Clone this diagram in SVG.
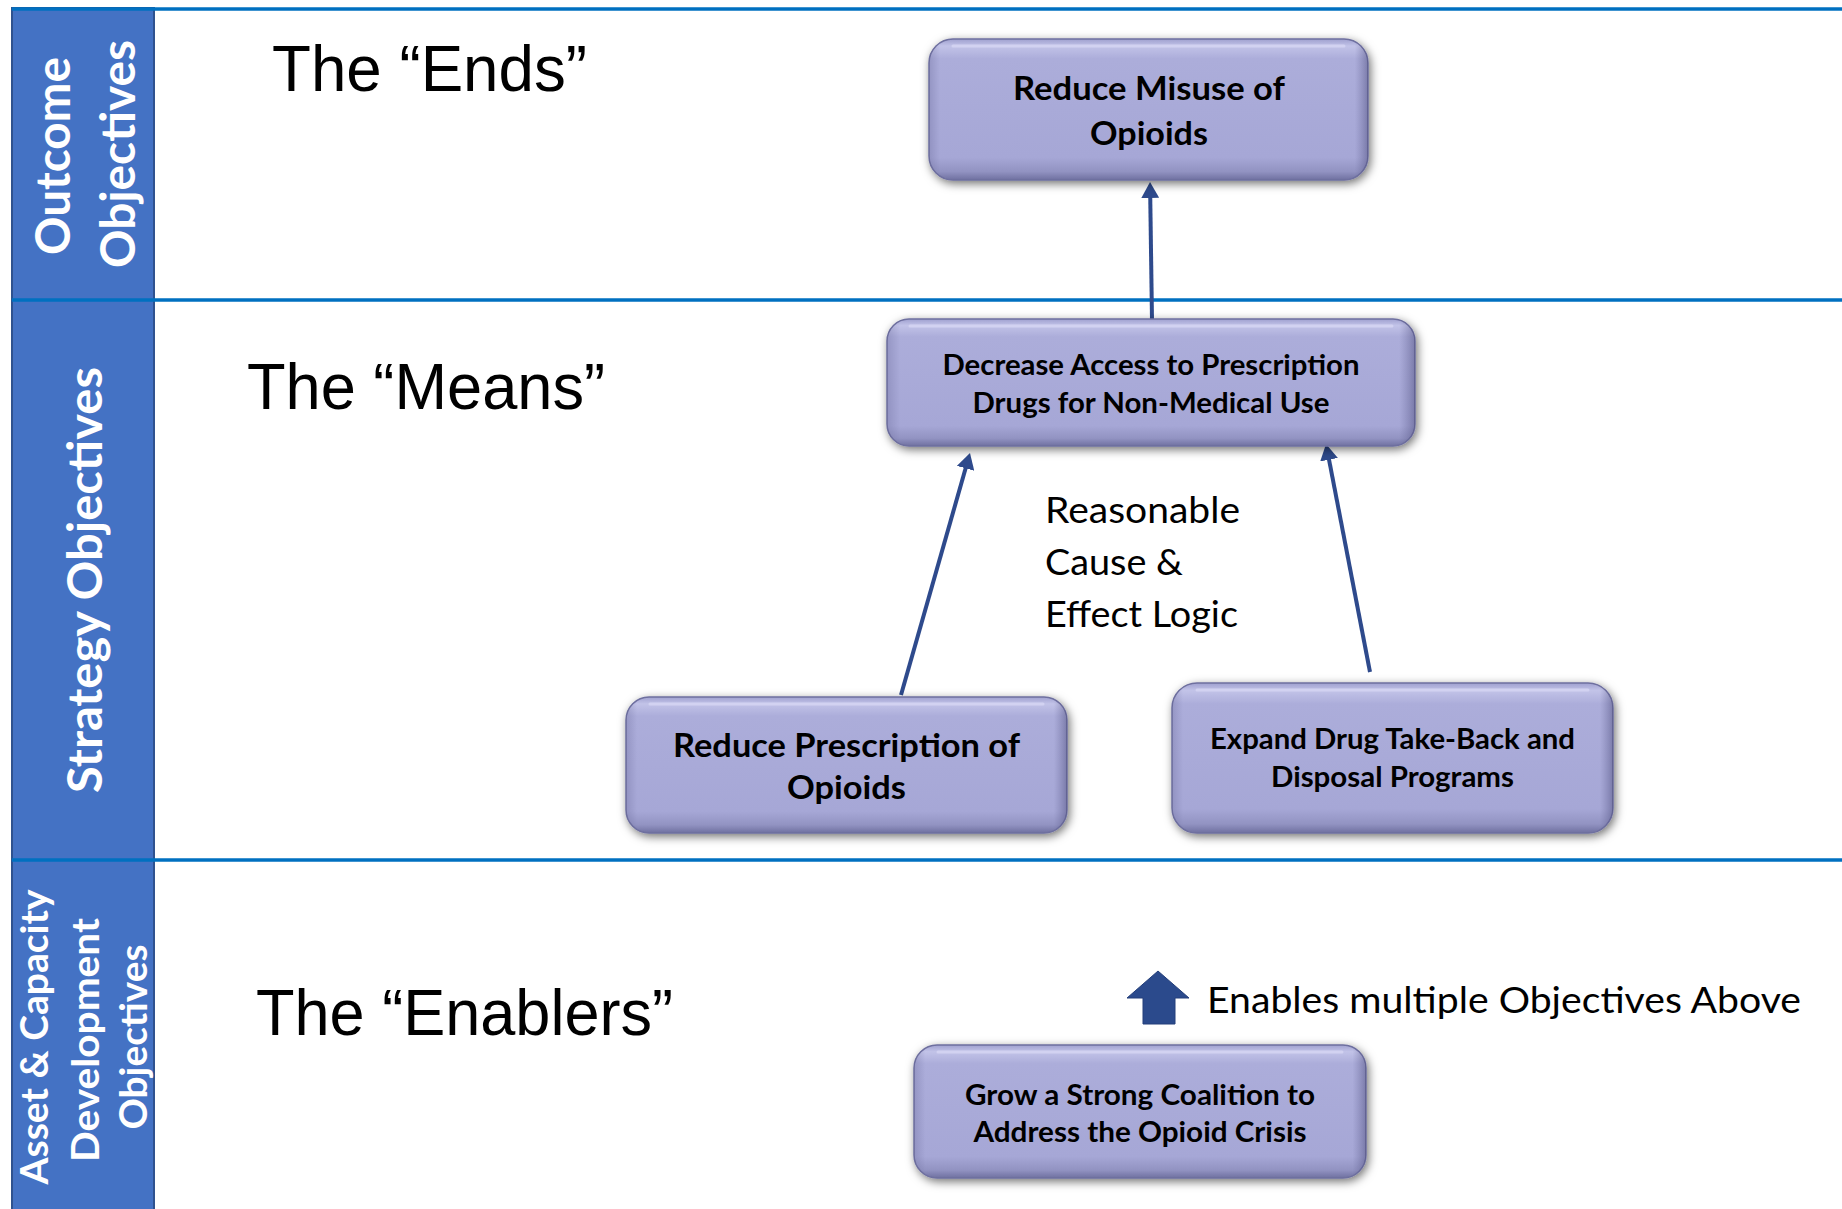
<svg xmlns="http://www.w3.org/2000/svg" width="1842" height="1209" viewBox="0 0 1842 1209">
  <style>
    .band { fill: #4472C4; stroke: #2F528F; stroke-width: 2; }
    .rule { stroke: #0070C0; stroke-width: 3.5; fill: none; }
    .bandtxt { font-family: Lato, "Open Sans", sans-serif; font-weight: bold; fill: #FFFFFF; text-anchor: middle; }
    .title { font-family: "Liberation Sans", Arial, sans-serif; font-size: 64px; fill: #000000; }
    .box { fill: url(#boxGrad); stroke: #6E6F9F; stroke-width: 1.5; filter: url(#shadow); }
    .boxshade { fill: url(#sideGrad); stroke: none; }
    .hl { fill: none; stroke: #D4D4F2; stroke-width: 3; stroke-linecap: round; opacity: 0.9; }
    .btxt { font-family: Lato, "Open Sans", sans-serif; font-weight: bold; fill: #000000; text-anchor: middle; }
    .note { font-family: Lato, "Open Sans", sans-serif; fill: #000000; }
    .conn { stroke: #2E4A8C; stroke-width: 4; fill: none; marker-end: url(#arrow); }
  </style>
  <defs>
    <linearGradient id="boxGrad" x1="0" y1="0" x2="0" y2="1">
      <stop offset="0" stop-color="#9FA0CF"/>
      <stop offset="0.05" stop-color="#C2C3E8"/>
      <stop offset="0.14" stop-color="#ACADDA"/>
      <stop offset="0.84" stop-color="#A6A7D6"/>
      <stop offset="0.94" stop-color="#9293C2"/>
      <stop offset="1" stop-color="#6F70A0"/>
    </linearGradient>
    <linearGradient id="sideGrad" x1="0" y1="0" x2="1" y2="0">
      <stop offset="0" stop-color="#5A5A8A" stop-opacity="0.28"/>
      <stop offset="0.025" stop-color="#5A5A8A" stop-opacity="0"/>
      <stop offset="0.97" stop-color="#5A5A8A" stop-opacity="0"/>
      <stop offset="1" stop-color="#404070" stop-opacity="0.45"/>
    </linearGradient>
    <filter id="shadow" x="-10%" y="-15%" width="120%" height="135%">
      <feDropShadow dx="2" dy="3" stdDeviation="5" flood-color="#000000" flood-opacity="0.55"/>
    </filter>
    <marker id="arrow" viewBox="0 0 16 18" refX="4" refY="9" markerWidth="16" markerHeight="18" markerUnits="userSpaceOnUse" orient="auto">
      <path d="M0,0 L16,9 L0,18 z" fill="#2E4A8C"/>
    </marker>
  </defs>

  <rect x="0" y="0" width="1842" height="1209" fill="#FFFFFF"/>

  <!-- left band -->
  <g id="band">
    <rect class="band" x="12" y="8" width="142" height="292"/>
    <rect class="band" x="12" y="300" width="142" height="560"/>
    <rect class="band" x="12" y="860" width="142" height="352"/>
  </g>

  <!-- horizontal rules -->
  <g id="rules">
    <line class="rule" x1="12" y1="9" x2="1842" y2="9"/>
    <line class="rule" x1="12" y1="300" x2="1842" y2="300"/>
    <line class="rule" x1="12" y1="860" x2="1842" y2="860"/>
  </g>

  <g id="band-outcome">
    <text class="bandtxt" font-size="47" transform="translate(70,156) rotate(-90)" textLength="198" lengthAdjust="spacingAndGlyphs">Outcome</text>
    <text class="bandtxt" font-size="47" transform="translate(135,154) rotate(-90)" textLength="228" lengthAdjust="spacingAndGlyphs">Objectives</text>
  </g>
  <g id="band-strategy">
    <text class="bandtxt" font-size="47" transform="translate(102,580) rotate(-90)" textLength="426" lengthAdjust="spacingAndGlyphs">Strategy Objectives</text>
  </g>
  <g id="band-asset">
    <text class="bandtxt" font-size="38" transform="translate(48,1037) rotate(-90)" textLength="295" lengthAdjust="spacingAndGlyphs">Asset &amp; Capacity</text>
    <text class="bandtxt" font-size="38" transform="translate(99,1040) rotate(-90)" textLength="244" lengthAdjust="spacingAndGlyphs">Development</text>
    <text class="bandtxt" font-size="38" transform="translate(147,1037) rotate(-90)" textLength="185" lengthAdjust="spacingAndGlyphs">Objectives</text>
  </g>

  <!-- row titles -->
  <g id="title-ends"><text class="title" x="272" y="91" textLength="315" lengthAdjust="spacingAndGlyphs">The “Ends”</text></g>
  <g id="title-means"><text class="title" x="247" y="409" textLength="358" lengthAdjust="spacingAndGlyphs">The “Means”</text></g>
  <g id="title-enablers"><text class="title" x="256" y="1035" textLength="417" lengthAdjust="spacingAndGlyphs">The “Enablers”</text></g>

  <!-- connectors -->
  <g id="connectors">
    <line id="c1" class="conn" x1="1152" y1="320" x2="1150.2" y2="194"/>
    <line id="c2" class="conn" x1="901" y1="695" x2="966.7" y2="464.5"/>
    <line id="c3" class="conn" x1="1370" y1="672" x2="1328.3" y2="455.8"/>
  </g>

  <!-- nodes -->
  <g id="node-misuse">
    <rect class="box" x="929" y="39" width="439" height="141" rx="24"/>
    <rect class="boxshade" x="929" y="39" width="439" height="141" rx="24"/>
    <path class="hl" d="M953,46 H1344"/>
    <text class="btxt" font-size="33" x="1149" y="100" textLength="272" lengthAdjust="spacingAndGlyphs">Reduce Misuse of</text>
    <text class="btxt" font-size="33" x="1149" y="145" textLength="118" lengthAdjust="spacingAndGlyphs">Opioids</text>
  </g>

  <g id="node-access">
    <rect class="box" x="887" y="319" width="528" height="127" rx="22"/>
    <rect class="boxshade" x="887" y="319" width="528" height="127" rx="22"/>
    <path class="hl" d="M910,326 H1392"/>
    <text class="btxt" font-size="28.5" x="1151" y="375" textLength="417" lengthAdjust="spacingAndGlyphs">Decrease Access to Prescription</text>
    <text class="btxt" font-size="28.5" x="1151" y="413" textLength="357" lengthAdjust="spacingAndGlyphs">Drugs for Non-Medical Use</text>
  </g>

  <g id="node-prescription">
    <rect class="box" x="626" y="697" width="441" height="136" rx="23"/>
    <rect class="boxshade" x="626" y="697" width="441" height="136" rx="23"/>
    <path class="hl" d="M650,704 H1043"/>
    <text class="btxt" font-size="33" x="846.5" y="757" textLength="347" lengthAdjust="spacingAndGlyphs">Reduce Prescription of</text>
    <text class="btxt" font-size="33" x="846.5" y="799" textLength="119" lengthAdjust="spacingAndGlyphs">Opioids</text>
  </g>

  <g id="node-takeback">
    <rect class="box" x="1172" y="683" width="441" height="150" rx="25"/>
    <rect class="boxshade" x="1172" y="683" width="441" height="150" rx="25"/>
    <path class="hl" d="M1197,690 H1588"/>
    <text class="btxt" font-size="28.5" x="1392.5" y="749" textLength="365" lengthAdjust="spacingAndGlyphs">Expand Drug Take-Back and</text>
    <text class="btxt" font-size="28.5" x="1392.5" y="787" textLength="243" lengthAdjust="spacingAndGlyphs">Disposal Programs</text>
  </g>

  <g id="node-coalition">
    <rect class="box" x="914" y="1045" width="452" height="133" rx="23"/>
    <rect class="boxshade" x="914" y="1045" width="452" height="133" rx="23"/>
    <path class="hl" d="M938,1052 H1342"/>
    <text class="btxt" font-size="28.5" x="1140" y="1105" textLength="350" lengthAdjust="spacingAndGlyphs">Grow a Strong Coalition to</text>
    <text class="btxt" font-size="28.5" x="1140" y="1142" textLength="333" lengthAdjust="spacingAndGlyphs">Address the Opioid Crisis</text>
  </g>

  <!-- logic note -->
  <g id="note-logic">
    <text class="note" font-size="36" x="1045" y="523" textLength="195" lengthAdjust="spacingAndGlyphs">Reasonable</text>
    <text class="note" font-size="36" x="1045" y="575" textLength="138" lengthAdjust="spacingAndGlyphs">Cause &amp;</text>
    <text class="note" font-size="36" x="1045" y="627" textLength="193" lengthAdjust="spacingAndGlyphs">Effect Logic</text>
  </g>

  <!-- enables block arrow + label -->
  <g id="enables">
    <polygon points="1158,971 1189,998 1175,998 1175,1024 1143,1024 1143,998 1127,998" fill="#2B4A8C" stroke="#243F7A" stroke-width="1"/>
    <text class="note" font-size="37" x="1207" y="1013" textLength="594" lengthAdjust="spacingAndGlyphs">Enables multiple Objectives Above</text>
  </g>
</svg>
